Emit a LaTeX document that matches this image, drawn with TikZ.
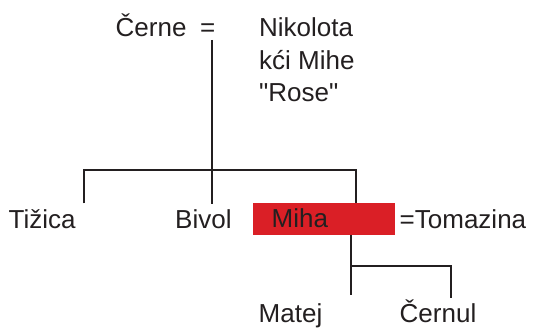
\documentclass[tikz,border=0pt]{standalone}
\usepackage{fontspec}
\setmainfont{Liberation Sans}
\definecolor{inkc}{HTML}{231F20}
\definecolor{boxred}{HTML}{DA1F26}
\begin{document}
\begin{tikzpicture}[x=1pt,y=-1pt,
  lbl/.style={anchor=base west,inner sep=0pt,text=inkc,font=\fontsize{26}{32}\selectfont},
  link/.style={draw=inkc,line width=1.9pt}]
\useasboundingbox (0,0) rectangle (533,328);
% people
\node[lbl] (cerne) at (115.5,37) {Černe};
\node[lbl] (eq) at (200,37) {=};
\node[lbl] (niko1) at (259,37) {Nikolota};
\node[lbl] (niko2) at (259,69.5) {kći Mihe};
\node[lbl] (niko3) at (259,101.5) {\textquotedbl Rose\textquotedbl};
\node[lbl] (tizica) at (8.5,228.3) {Tižica};
\node[lbl] (bivol) at (175,228.3) {Bivol};
\node[fill=boxred,inner sep=0pt,minimum width=141.5pt,minimum height=32pt] (mihabox) at (323.75,219) {};
\node[lbl] (miha) at (271.5,227.3) {Miha};
\node[lbl] (toma) at (399.5,228.3) {=Tomazina};
\node[lbl] (matej) at (258.5,322.5) {Matej};
\node[lbl] (cernul) at (399.5,322.5) {Černul};
% junction points
\coordinate (p0) at (212,40);
\coordinate (pL) at (84,170);
\coordinate (pR) at (356,170);
\coordinate (tz) at (84,203.5);
\coordinate (bv) at (212,204);
\coordinate (mh) at (356,203);
\coordinate (c0) at (351,235);
\coordinate (cJ) at (351,266);
\coordinate (mt) at (351,295);
\coordinate (cR) at (451,266);
\coordinate (cn) at (451,298);
% connectors
\draw[link] (p0) -- (bv);
\draw[link] (tz) -- (pL) -- (pR) -- (mh);
\draw[link] (c0) -- (mt);
\draw[link] (cJ) -- (cR) -- (cn);
\end{tikzpicture}
\end{document}
